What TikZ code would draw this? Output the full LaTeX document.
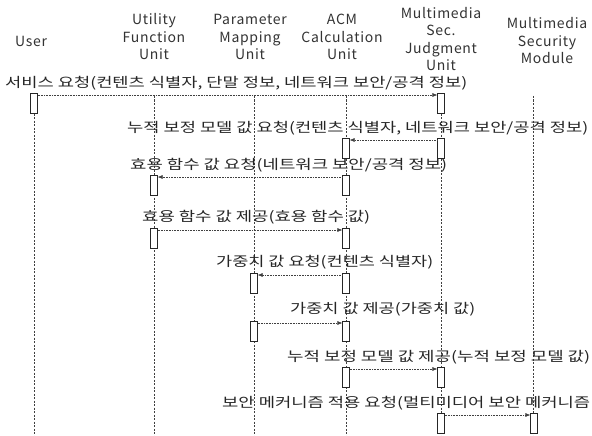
\documentclass[tikz,border=0pt]{standalone}
\usepackage{fontspec}
\usepackage{graphicx}
\setmainfont{Noto Sans CJK KR}
\usetikzlibrary{arrows.meta}
\newcommand{\fitw}[2]{\resizebox{#1}{\height}{#2}}
\begin{document}
\begin{tikzpicture}[x=1pt,y=-1pt,
  head/.style={font=\fontsize{14}{17.5}\selectfont\addfontfeature{LetterSpace=5}, align=center, inner sep=0pt, text=black!80},
  msgtxt/.style={font=\fontsize{13.5}{16}\selectfont, anchor=west, inner sep=0pt, text=black!85},
  life/.style={draw=black!75, line width=0.5pt, dash pattern=on 2pt off 1.5pt},
  act/.style={draw=black!85, fill=white, line width=0.6pt, minimum width=6.5pt, minimum height=20pt, inner sep=0pt, anchor=north},
  msg/.style={draw=black!75, line width=0.6pt, densely dotted, -{Latex[length=5pt,width=4pt]}}]
\useasboundingbox (0,0) rectangle (592,436);
\fill[white] (0,0) rectangle (592,436);
% heads
\node[head] (hU) at (31,41) {User};
\node[head] (hF) at (154,37) {Utility\\Function\\Unit};
\node[head] (hP) at (250,37) {Parameter\\Mapping\\Unit};
\node[head] (hA) at (342,37) {ACM\\Calculation\\Unit};
\node[head] (hJ) at (441,39) {Multimedia\\Sec.\\Judgment\\Unit};
\node[head] (hM) at (547,41) {Multimedia\\Security\\Module};
% lifelines
\foreach \n/\x in {U/34,F/154,P/254,A/346,J/441,M/533}{
  \coordinate (top\n) at (\x,96);
  \coordinate (bot\n) at (\x,436);
  \draw[life] (top\n) -- (bot\n);
}
% activations
\node[act] (aU1) at (34,93) {};
\node[act] (aJ1) at (441,93) {};
\node[act] (aJ2) at (441,138) {};
\node[act] (aA2) at (346,138) {};
\node[act] (aA3) at (346,175) {};
\node[act] (aF3) at (154,175) {};
\node[act] (aF4) at (154,228) {};
\node[act] (aA4) at (346,228) {};
\node[act] (aA5) at (346,273) {};
\node[act] (aP5) at (254,273) {};
\node[act] (aP6) at (254,321) {};
\node[act] (aA6) at (346,321) {};
\node[act] (aA7) at (346,367) {};
\node[act] (aJ7) at (441,367) {};
\node[act] (aJ8) at (441,413) {};
\node[act] (aM8) at (534,413) {};
% messages
\draw[msg] ([yshift=-2pt]aU1.north east) -- ([yshift=-2pt]aJ1.north west);
\draw[msg] ([yshift=-2pt]aJ2.north west) -- ([yshift=-2pt]aA2.north east);
\draw[msg] ([yshift=-2pt]aA3.north west) -- ([yshift=-2pt]aF3.north east);
\draw[msg] ([yshift=-2pt]aF4.north east) -- ([yshift=-2pt]aA4.north west);
\draw[msg] ([yshift=-2pt]aA5.north west) -- ([yshift=-2pt]aP5.north east);
\draw[msg] ([yshift=-2pt]aP6.north east) -- ([yshift=-2pt]aA6.north west);
\draw[msg] ([yshift=-2pt]aA7.north east) -- ([yshift=-2pt]aJ7.north west);
\draw[msg] ([yshift=-2pt]aJ8.north east) -- ([yshift=-2pt]aM8.north west);
% labels
\node[msgtxt] (t1) at (5,83) {\fitw{462pt}{서비스 요청(컨텐츠 식별자, 단말 정보, 네트워크 보안/공격 정보)}};
\node[msgtxt] (t2) at (127,128) {\fitw{461pt}{누적 보정 모델 값 요청(컨텐츠 식별자, 네트워크 보안/공격 정보)}};
\node[msgtxt] (t3) at (130,165) {\fitw{317pt}{효용 함수 값 요청(네트워크 보안/공격 정보)}};
\node[msgtxt] (t4) at (142,217) {\fitw{228pt}{효용 함수 값 제공(효용 함수 값)}};
\node[msgtxt] (t5) at (216,262) {\fitw{217pt}{가중치 값 요청(컨텐츠 식별자)}};
\node[msgtxt] (t6) at (290,309) {\fitw{185pt}{가중치 값 제공(가중치 값)}};
\node[msgtxt] (t7) at (287,357) {\fitw{303pt}{누적 보정 모델 값 제공(누적 보정 모델 값)}};
\node[msgtxt] (t8) at (222,403) {\fitw{368pt}{보안 메커니즘 적용 요청(멀티미디어 보안 메커니즘}};
\end{tikzpicture}
\end{document}
